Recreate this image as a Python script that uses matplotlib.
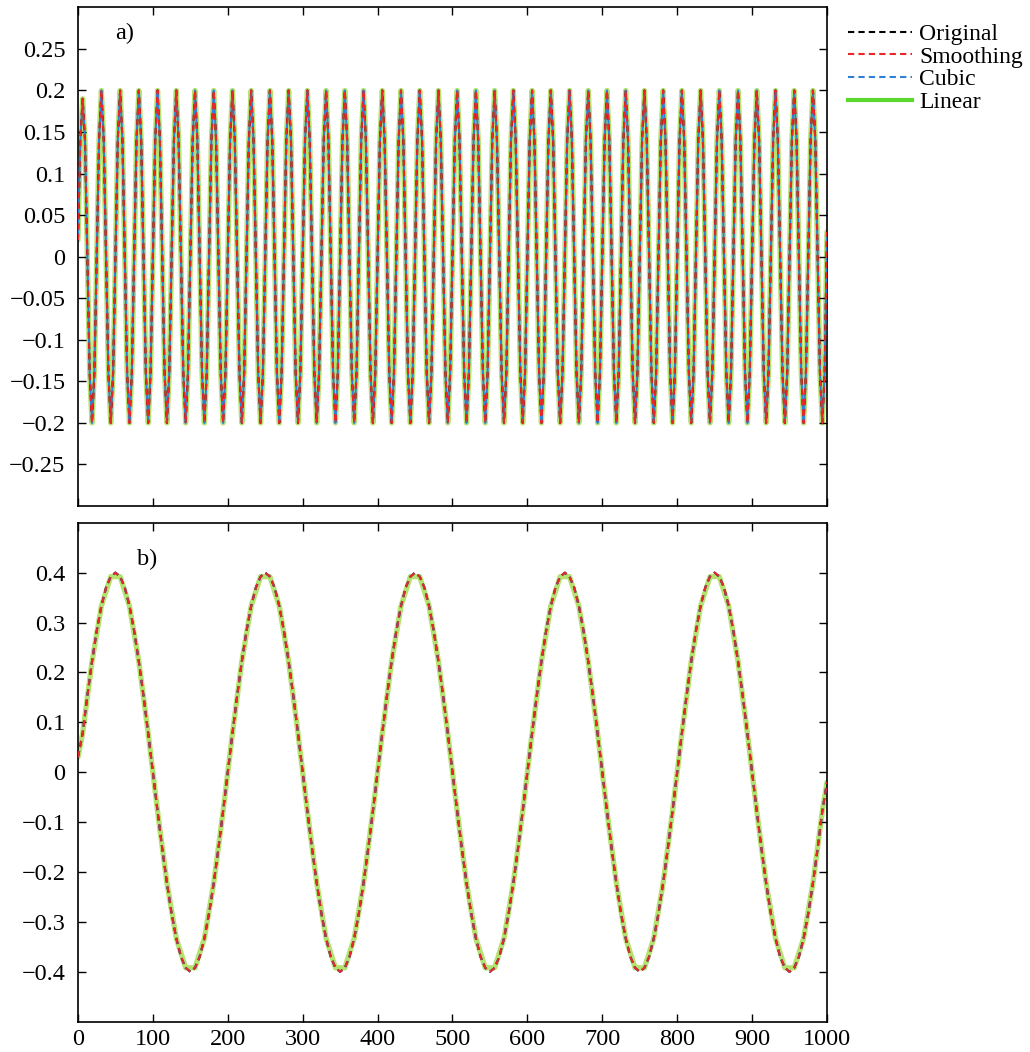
import numpy as np
import matplotlib.pyplot as plt
from matplotlib.lines import Line2D
from matplotlib.ticker import FuncFormatter

# panel a) : values read every 3.125 samples (8 per period)
top_step = 3.125
top_y = [0.02, 0.14, 0.19, 0.14, 0.0, -0.14, -0.2, -0.14,
         0.0, 0.14, 0.2, 0.14, 0.0, -0.14, -0.2, -0.14,
         0.0, 0.14, 0.2, 0.14, 0.0, -0.14, -0.2, -0.14,
         0.0, 0.14, 0.2, 0.14, 0.0, -0.14, -0.2, -0.14,
         0.0, 0.14, 0.2, 0.14, 0.0, -0.14, -0.2, -0.14,
         0.0, 0.14, 0.2, 0.14, 0.0, -0.14, -0.2, -0.14,
         0.0, 0.14, 0.2, 0.14, 0.0, -0.14, -0.2, -0.14,
         0.0, 0.14, 0.2, 0.14, 0.0, -0.14, -0.2, -0.14,
         0.0, 0.14, 0.2, 0.14, 0.0, -0.14, -0.2, -0.14,
         0.0, 0.14, 0.2, 0.14, 0.0, -0.14, -0.2, -0.14,
         0.0, 0.14, 0.2, 0.14, 0.0, -0.14, -0.2, -0.14,
         0.0, 0.14, 0.2, 0.14, 0.0, -0.14, -0.2, -0.14,
         0.0, 0.14, 0.2, 0.14, 0.0, -0.14, -0.2, -0.14,
         0.0, 0.14, 0.2, 0.14, 0.0, -0.14, -0.2, -0.14,
         0.0, 0.14, 0.2, 0.14, 0.0, -0.14, -0.2, -0.14,
         0.0, 0.14, 0.2, 0.14, 0.0, -0.14, -0.2, -0.14,
         0.0, 0.14, 0.2, 0.14, 0.0, -0.14, -0.2, -0.14,
         0.0, 0.14, 0.2, 0.14, 0.0, -0.14, -0.2, -0.14,
         0.0, 0.14, 0.2, 0.14, 0.0, -0.14, -0.2, -0.14,
         0.0, 0.14, 0.2, 0.14, 0.0, -0.14, -0.2, -0.14,
         0.0, 0.14, 0.2, 0.14, 0.0, -0.14, -0.2, -0.14,
         0.0, 0.14, 0.2, 0.14, 0.0, -0.14, -0.2, -0.14,
         0.0, 0.14, 0.2, 0.14, 0.0, -0.14, -0.2, -0.14,
         0.0, 0.14, 0.2, 0.14, 0.0, -0.14, -0.2, -0.14,
         0.0, 0.14, 0.2, 0.14, 0.0, -0.14, -0.2, -0.14,
         0.0, 0.14, 0.2, 0.14, 0.0, -0.14, -0.2, -0.14,
         0.0, 0.14, 0.2, 0.14, 0.0, -0.14, -0.2, -0.14,
         0.0, 0.14, 0.2, 0.14, 0.0, -0.14, -0.2, -0.14,
         0.0, 0.14, 0.2, 0.14, 0.0, -0.14, -0.2, -0.14,
         0.0, 0.14, 0.2, 0.14, 0.0, -0.14, -0.2, -0.14,
         0.0, 0.14, 0.2, 0.14, 0.0, -0.14, -0.2, -0.14,
         0.0, 0.14, 0.2, 0.14, 0.0, -0.14, -0.2, -0.14,
         0.0, 0.14, 0.2, 0.14, 0.0, -0.14, -0.2, -0.14,
         0.0, 0.14, 0.2, 0.14, 0.0, -0.14, -0.2, -0.14,
         0.0, 0.14, 0.2, 0.14, 0.0, -0.14, -0.2, -0.14,
         0.0, 0.14, 0.2, 0.14, 0.0, -0.14, -0.2, -0.14,
         0.0, 0.14, 0.2, 0.14, 0.0, -0.14, -0.2, -0.14,
         0.0, 0.14, 0.2, 0.14, 0.0, -0.14, -0.2, -0.14,
         0.0, 0.14, 0.2, 0.14, 0.0, -0.14, -0.2, -0.14,
         0.0, 0.14, 0.2, 0.14, 0.0, -0.14, -0.2, -0.14,
         0.03]

# panel b) : values read every 6.25 samples
bot_step = 6.25
bot_y = [0.03, 0.078, 0.153, 0.222, 0.283, 0.333, 0.37, 0.392, 0.4, 0.392, 0.37, 0.333, 0.283, 0.222, 0.153, 0.078,
         0.0, -0.078, -0.153, -0.222, -0.283, -0.333, -0.37, -0.392, -0.4, -0.392, -0.37, -0.333, -0.283, -0.222, -0.153, -0.078,
         0.0, 0.078, 0.153, 0.222, 0.283, 0.333, 0.37, 0.392, 0.4, 0.392, 0.37, 0.333, 0.283, 0.222, 0.153, 0.078,
         0.0, -0.078, -0.153, -0.222, -0.283, -0.333, -0.37, -0.392, -0.4, -0.392, -0.37, -0.333, -0.283, -0.222, -0.153, -0.078,
         0.0, 0.078, 0.153, 0.222, 0.283, 0.333, 0.37, 0.392, 0.4, 0.392, 0.37, 0.333, 0.283, 0.222, 0.153, 0.078,
         0.0, -0.078, -0.153, -0.222, -0.283, -0.333, -0.37, -0.392, -0.4, -0.392, -0.37, -0.333, -0.283, -0.222, -0.153, -0.078,
         0.0, 0.078, 0.153, 0.222, 0.283, 0.333, 0.37, 0.392, 0.4, 0.392, 0.37, 0.333, 0.283, 0.222, 0.153, 0.078,
         0.0, -0.078, -0.153, -0.222, -0.283, -0.333, -0.37, -0.392, -0.4, -0.392, -0.37, -0.333, -0.283, -0.222, -0.153, -0.078,
         0.0, 0.078, 0.153, 0.222, 0.283, 0.333, 0.37, 0.392, 0.4, 0.392, 0.37, 0.333, 0.283, 0.222, 0.153, 0.078,
         0.0, -0.078, -0.153, -0.222, -0.283, -0.333, -0.37, -0.392, -0.4, -0.392, -0.37, -0.333, -0.283, -0.222, -0.153, -0.078,
         -0.02]

labels = ['Original', 'Smoothing', 'Cubic', 'Linear']
colors = ['black', '#e8262b', '#2f7fd6', '#5cd92e']
green_line = '#b3e36e'

top_y = np.array(top_y)
bot_y = np.array(bot_y)
top_x = np.arange(len(top_y)) * top_step
bot_x = np.arange(len(bot_y)) * bot_step
# linear curve of b) only goes through every other sample
lin_idx = [0] + list(range(1, len(bot_y), 2)) + [len(bot_y) - 1]

plt.rcParams['font.family'] = ['Liberation Serif', 'DejaVu Serif']
plt.rcParams['font.size'] = 17.5


def fmt(v, pos):
    if abs(v) < 1e-9:
        return '0'
    return f'{v:g}'.replace('-', '\u2212')


fig = plt.figure(figsize=(10.3, 10.52), dpi=100)
ax1 = fig.add_axes([0.0757, 0.519, 0.7272, 0.474])
ax2 = fig.add_axes([0.0757, 0.0288, 0.7272, 0.4743])


def draw(ax, x, y, xl, yl, off_blue):
    ax.plot(xl, yl, c=green_line, lw=3.8, solid_capstyle='round', zorder=1)
    ax.plot(x, y, c=colors[0], lw=1.5, ls=(0, (3, 2)), zorder=2)
    ax.plot(x, y, c=colors[2], lw=1.5, ls=(off_blue, (3, 2)), zorder=3)
    ax.plot(x, y, c=colors[1], lw=1.5, ls=(0, (3, 2)), zorder=4)
    ax.set_xlim(0, 1000)
    ax.set_xticks(np.arange(0, 1001, 100))
    ax.tick_params(direction='in', length=5.5, width=1, top=True, right=True, pad=9)
    ax.tick_params(axis='x', pad=5)
    ax.yaxis.set_major_formatter(FuncFormatter(fmt))
    for s in ax.spines.values():
        s.set_linewidth(1.2)


draw(ax1, top_x, top_y, top_x, top_y, 2.5)
ax1.set_ylim(-0.3, 0.3)
ax1.set_yticks(np.arange(-0.25, 0.26, 0.05))
ax1.tick_params(labelbottom=False)
ax1.text(0.049, 0.948, 'a)', transform=ax1.transAxes, va='center', ha='left')

draw(ax2, bot_x, bot_y, bot_x[lin_idx], bot_y[lin_idx], 0)
ax2.set_ylim(-0.5, 0.5)
ax2.set_yticks(np.arange(-0.4, 0.41, 0.1))
ax2.xaxis.set_major_formatter(FuncFormatter(fmt))
ax2.text(0.079, 0.927, 'b)', transform=ax2.transAxes, va='center', ha='left')

handles = [Line2D([], [], c=colors[0], lw=1.5, ls=(0, (3, 2))),
           Line2D([], [], c=colors[1], lw=1.5, ls=(0, (3, 2))),
           Line2D([], [], c=colors[2], lw=1.5, ls=(0, (3, 2))),
           Line2D([], [], c=colors[3], lw=3)]
fig.legend(handles, labels, loc='upper left', bbox_to_anchor=(0.812, 0.989),
           frameon=False, handlelength=2.7, handletextpad=0.3, labelspacing=0.05,
           borderpad=0, fontsize=17)

plt.savefig('out.png', dpi=100)
